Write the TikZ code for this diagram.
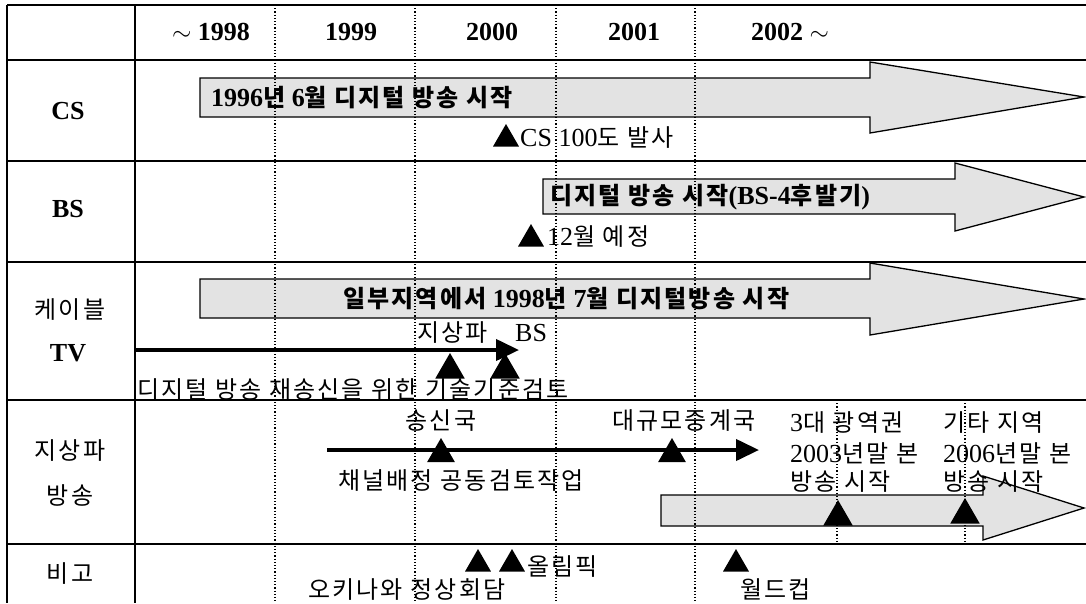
\documentclass[tikz,border=0pt]{standalone}
\usepackage{fontspec}
\setmainfont{Liberation Serif}
\newfontfamily\krf[LetterSpace=9]{Noto Sans CJK KR}
\usetikzlibrary{arrows.meta,shapes.geometric}
\newcommand\K[1]{{\krf\fontsize{24}{28}\selectfont #1}}
\tikzset{
 tline/.style={line width=1.6pt},
 dline/.style={line width=1.2pt, dash pattern=on 1.2pt off 2pt},
 bigarr/.style={draw=black, line width=1.3pt, fill=black!11, line join=miter},
 heavyarr/.style={line width=4pt, -{Triangle[length=23pt,width=21pt]}},
 tri/.style={regular polygon, regular polygon sides=3, fill=black, inner sep=0pt, minimum size=#1},
 tri/.default=32pt,
 txt/.style={inner sep=0pt, anchor=west},
 ctxt/.style={inner sep=0pt},
 bld/.style={font=\fontsize{26}{30}\selectfont\bfseries},
}
\begin{document}
\begin{tikzpicture}[x=1pt,y=-1pt,font=\fontsize{26}{30}\selectfont]
\useasboundingbox (0,0) rectangle (1086,603);
\fill[white] (0,0) rectangle (1086,603);

% big arrows
\draw[bigarr] (200,78) -- (870,78) -- (870,62) -- (1084,97) -- (870,133) -- (870,117) -- (200,117) -- cycle;
\draw[bigarr] (543,179) -- (955,179) -- (955,163) -- (1084,197) -- (955,231) -- (955,214) -- (543,214) -- cycle;
\draw[bigarr] (200,279) -- (870,279) -- (870,263) -- (1084,299) -- (870,335) -- (870,318) -- (200,318) -- cycle;
\draw[bigarr] (661,495) -- (983,495) -- (983,476) -- (1084,508) -- (983,540) -- (983,526) -- (661,526) -- cycle;

% dotted column lines
\foreach \x in {275,415,556,695} \draw[dline] (\x,5) -- (\x,603);
\foreach \x in {837,965} \draw[dline] (\x,400) -- (\x,544);

% table lines
\foreach \y in {5,60,161,262,400,544} \draw[tline] (7,\y) -- (1086,\y);
\draw[tline] (7,5) -- (7,603);
\draw[tline] (135,5) -- (135,603);

% header
\node[ctxt,bld] (h1) at (211,32) {$\sim$ 1998};
\node[ctxt,bld] (h2) at (351,32) {1999};
\node[ctxt,bld] (h3) at (492,32) {2000};
\node[ctxt,bld] (h4) at (634,32) {2001};
\node[txt,bld] (h5) at (751,32) {2002 $\sim$};

% row labels
\node[ctxt,bld] (lcs) at (68,111) {CS};
\node[ctxt,bld] (lbs) at (68,209) {BS};
\node[ctxt] (lcab) at (70,310) {\K{케이블}};
\node[ctxt,bld] (ltv) at (68,353) {TV};
\node[ctxt] (lter1) at (70,451) {\K{지상파}};
\node[ctxt] (lter2) at (70,495) {\K{방송}};
\node[ctxt] (lnote) at (70,574) {\K{비고}};

% arrow texts
\node[txt,bld] (acs) at (211,98) {1996\K{\bfseries 년} 6\K{\bfseries 월 디지털 방송 시작}};
\node[txt,bld] (abs) at (550,197) {\K{\bfseries 디지털 방송 시작}(BS-4\K{\bfseries 후발기})};
\node[txt,bld] (acab) at (343,299) {\K{\bfseries 일부지역에서} 1998\K{\bfseries 년} 7\K{\bfseries 월 디지털방송 시작}};

% CS row
\node[tri=30pt] (tcs) at (506,139) {};
\node[txt] (cs100) at (520,138) {CS 100\K{도 발사}};

% BS row
\node[tri=30pt] (tbs) at (531,239) {};
\node[txt] (bs12) at (547,237) {12\K{월 예정}};

% cable row
\coordinate (cabS) at (135,350);
\coordinate (cabE) at (519,350);
\draw[heavyarr] (cabS) -- (cabE);
\node[tri=34pt] (tc1) at (450,370) {};
\node[tri=34pt] (tc2) at (505,370) {};
\node[txt] (cgs) at (417,333) {\K{지상파}};
\node[txt] (cbs) at (515,333) {BS};
\node[txt] (cret) at (137,390) {\K{디지털 방송 재송신을 위한 기술기준검토}};

% terrestrial row
\coordinate (terS) at (327,450);
\coordinate (terE) at (759,450);
\draw[heavyarr] (terS) -- (terE);
\node[tri=32pt] (tt1) at (441,454) {};
\node[tri=32pt] (tt2) at (672,454) {};
\node[ctxt] (tsong) at (441,421) {\K{송신국}};
\node[txt] (tdae) at (612,421) {\K{대규모중계국}};
\node[txt] (tchan) at (338,481) {\K{채널배정 공동검토작업}};
\node[txt] (t3a) at (790,423) {3\K{대 광역권}};
\node[txt] (t3b) at (790,453) {2003\K{년말 본}};
\node[txt] (t3c) at (790,482) {\K{방송 시작}};
\node[txt] (tga) at (943,423) {\K{기타 지역}};
\node[txt] (tgb) at (943,453) {2006\K{년말 본}};
\node[txt] (tgc) at (943,482) {\K{방송 시작}};
\node[tri=34pt] (tt3) at (838,517) {};
\node[tri=34pt] (tt4) at (965,515) {};

% note row
\node[tri=30pt] (tn1) at (478,564) {};
\node[tri=30pt] (tn2) at (512,564) {};
\node[tri=30pt] (tn3) at (736,564) {};
\node[txt] (nol) at (527,567) {\K{올림픽}};
\node[txt] (noki) at (308,589) {\K{오키나와 정상회담}};
\node[txt] (nwc) at (740,589) {\K{월드컵}};
\end{tikzpicture}
\end{document}
